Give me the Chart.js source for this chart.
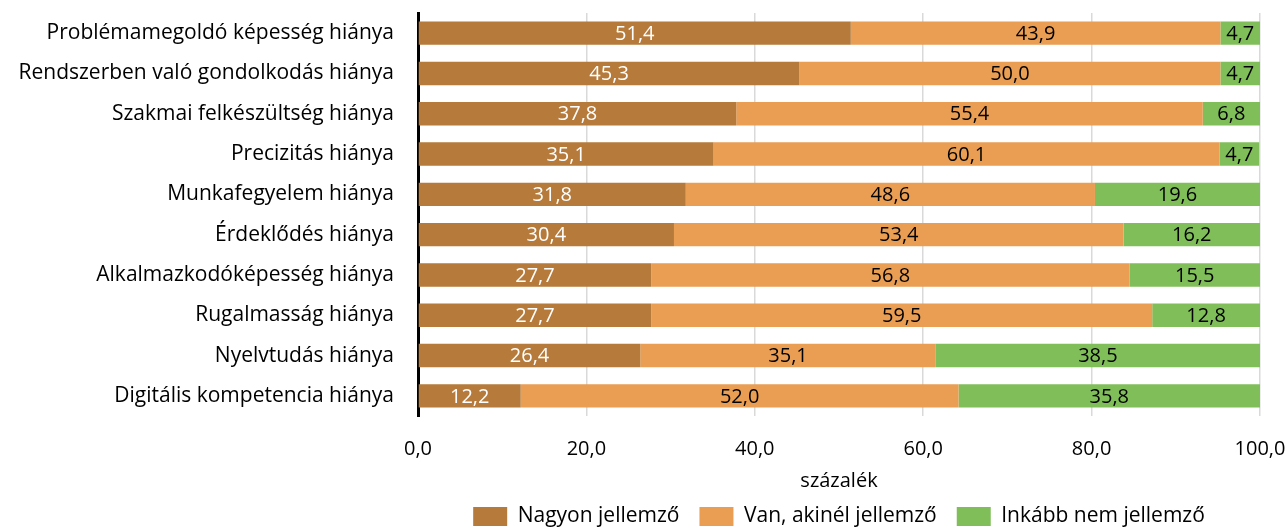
<!DOCTYPE html>
<html>
<head>
<meta charset="utf-8">
<script src="https://cdn.jsdelivr.net/npm/chart.js@4/dist/chart.umd.min.js"></script>
<style>
    html, body { margin: 0; padding: 0; background: #fff; }
    #wrap { width: 1288px; height: 531px; position: relative; }
</style>
</head>
<body>
<div id="wrap"><canvas id="chart"></canvas></div>
<script>
// Chart data
const categories = [
    'Problémamegoldó képesség hiánya',
    'Rendszerben való gondolkodás hiánya',
    'Szakmai felkészültség hiánya',
    'Precizitás hiánya',
    'Munkafegyelem hiánya',
    'Érdeklődés hiánya',
    'Alkalmazkodóképesség hiánya',
    'Rugalmasság hiánya',
    'Nyelvtudás hiánya',
    'Digitális kompetencia hiánya'
];
const nagyonJellemzo = [51.4, 45.3, 37.8, 35.1, 31.8, 30.4, 27.7, 27.7, 26.4, 12.2];
const vanAkinelJellemzo = [43.9, 50.0, 55.4, 60.1, 48.6, 53.4, 56.8, 59.5, 35.1, 52.0];
const inkabbNemJellemzo = [4.7, 4.7, 6.8, 4.7, 19.6, 16.2, 15.5, 12.8, 38.5, 35.8];
const seriesNames = ['Nagyon jellemző', 'Van, akinél jellemző', 'Inkább nem jellemző'];
const xTicks = [0, 20, 40, 60, 80, 100];

const FONT = '"Open Sans", "Noto Sans", sans-serif';
const SIZE = 20;

function fmt(v) {
    return v.toFixed(1).replace('.', ',');
}

// Value labels centred in each bar segment
const segmentLabels = {
    id: 'segmentLabels',
    afterDatasetsDraw(chart) {
        const ctx = chart.ctx;
        ctx.save();
        ctx.font = SIZE + 'px ' + FONT;
        ctx.textAlign = 'center';
        ctx.textBaseline = 'middle';
        chart.data.datasets.forEach((ds, i) => {
            const meta = chart.getDatasetMeta(i);
            ctx.fillStyle = i === 0 ? '#ffffff' : '#000000';
            meta.data.forEach((bar, j) => {
                const cx = (bar.x + bar.base) / 2;
                ctx.fillText(fmt(ds.data[j]), cx, bar.y + 1);
            });
        });
        ctx.restore();
    }
};

const chart = new Chart(document.getElementById('chart'), {
    type: 'bar',
    data: {
        labels: categories,
        datasets: [
            { label: seriesNames[0], data: nagyonJellemzo, backgroundColor: '#B67A3A' },
            { label: seriesNames[1], data: vanAkinelJellemzo, backgroundColor: '#E99E53' },
            { label: seriesNames[2], data: inkabbNemJellemzo, backgroundColor: '#80BE5A' }
        ]
    },
    options: {
        indexAxis: 'y',
        responsive: true,
        maintainAspectRatio: false,
        animation: false,
        datasets: {
            bar: { barPercentage: 0.58, categoryPercentage: 1.0 }
        },
        layout: { padding: { top: 13, right: 28, left: 0, bottom: -6 } },
        plugins: {
            legend: {
                position: 'bottom',
                fullSize: false,
                labels: {
                    boxWidth: 34,
                    boxHeight: 19,
                    padding: 20,
                    color: '#000',
                    font: { family: FONT, size: 21 }
                }
            },
            tooltip: { enabled: false }
        },
        scales: {
            x: {
                stacked: true,
                min: 0,
                max: 100,
                afterBuildTicks: axis => { axis.ticks = xTicks.map(v => ({ value: v })); },
                afterFit: axis => {
                    axis.paddingLeft = 0;
                    axis.paddingRight = 0;
                    axis.height = 70;
                },
                ticks: {
                    color: '#000',
                    padding: 21,
                    font: { family: FONT, size: SIZE },
                    callback: v => fmt(v)
                },
                grid: { color: '#d9d9d9', lineWidth: 1.5, drawTicks: false },
                border: { display: false },
                title: {
                    display: true,
                    text: 'százalék',
                    color: '#000',
                    font: { family: FONT, size: SIZE },
                    padding: { top: 0, bottom: -7 }
                }
            },
            y: {
                stacked: true,
                afterFit: axis => {
                    axis.width = 418;
                    axis.paddingTop = 0;
                    axis.paddingBottom = 0;
                },
                ticks: {
                    color: '#000',
                    padding: 24,
                    font: { family: FONT, size: 21 }
                },
                grid: { display: false, drawTicks: false },
                border: { display: true, color: '#000', width: 3 }
            }
        }
    },
    plugins: [segmentLabels]
});
</script>
</body>
</html>
